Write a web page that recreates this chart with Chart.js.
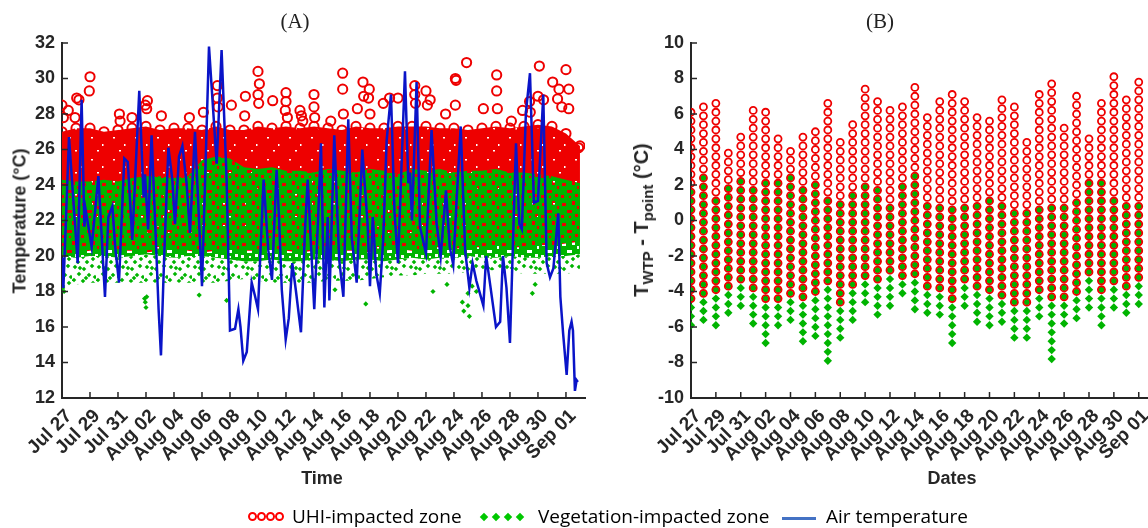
<!DOCTYPE html>
<html><head><meta charset="utf-8">
<script src="https://cdn.jsdelivr.net/npm/chart.js@4.4.1/dist/chart.umd.min.js"></script>
<style>
html,body{margin:0;padding:0;background:#fff;width:1148px;height:528px;overflow:hidden;position:relative;font-family:"Liberation Sans",Arial,sans-serif;}
canvas{position:absolute;top:0;}
#ca{left:0;}
#cb{left:620px;}
.t{position:absolute;white-space:nowrap;color:#262626;transform:translate(-50%,-50%);}
.ttl{font-family:"Liberation Serif","Times New Roman",serif;font-size:21px;color:#222;}
.ax{font-weight:bold;font-size:18px;}
.ax2{font-weight:bold;font-size:20px;}
.rot{transform:translate(-50%,-50%) rotate(-90deg);}
.sub{font-size:15px;vertical-align:-5px;}
.lg{position:absolute;white-space:nowrap;font-family:"Open Sans",sans-serif;font-size:19px;color:#000;top:503px;}
.ring{position:absolute;width:5px;height:5px;border:2px solid #f00;border-radius:50%;top:512px;}
.dia{position:absolute;width:6px;height:6px;background:#00c800;transform:rotate(45deg);top:514px;}
</style></head>
<body>
<canvas id="ca" width="600" height="470"></canvas>
<canvas id="cb" width="542" height="470"></canvas>
<div class="t ttl" style="left:295px;top:21px;">(A)</div>
<div class="t ttl" style="left:880px;top:21px;">(B)</div>
<div class="t ax rot" style="left:20px;top:221px;">Temperature (°C)</div>
<div class="t ax" style="left:322px;top:478px;">Time</div>
<div class="t ax" style="left:952px;top:478px;">Dates</div>
<div class="t ax2 rot" style="left:643px;top:220px;">T<span class="sub">WTP</span> - T<span class="sub">point</span> (°C)</div>
<div class="ring" style="left:248px"></div><div class="ring" style="left:257px"></div><div class="ring" style="left:266px"></div><div class="ring" style="left:275px"></div>
<div class="lg" style="left:292px">UHI-impacted zone</div>
<div class="dia" style="left:481px"></div><div class="dia" style="left:493px"></div><div class="dia" style="left:505px"></div><div class="dia" style="left:517px"></div>
<div class="lg" style="left:538px">Vegetation-impacted zone</div>
<div style="position:absolute;left:782px;top:517px;width:34px;height:3px;background:#4472c4"></div>
<div class="lg" style="left:826px">Air temperature</div>
<script>
// ---------- tick labels ----------
const xTickLabels = ['Jul 27','Jul 29','Jul 31','Aug 02','Aug 04','Aug 06','Aug 08','Aug 10','Aug 12','Aug 14','Aug 16','Aug 18','Aug 20','Aug 22','Aug 24','Aug 26','Aug 28','Aug 30','Sep 01'];

// ---------- Panel A: air temperature (days since Jul 27) ----------
const airDays = [0,0.1,0.5,0.93,1.12,1.4,1.6,1.69,1.88,2.12,2.6,3.07,3.31,3.6,3.8,4.07,4.45,4.7,5.02,5.52,5.83,5.93,6.15,6.4,6.75,6.9,7.07,7.3,7.6,7.88,8.07,8.36,8.6,8.9,9.14,9.5,10.0,10.5,11.05,11.4,11.76,12.0,12.36,12.6,12.75,12.95,13.2,13.55,13.8,14.0,14.4,14.74,15.0,15.33,15.5,15.7,15.98,16.2,16.45,16.7,17.07,17.36,17.55,18.02,18.3,18.5,18.74,18.98,19.1,19.45,19.8,20.1,20.45,20.7,21.05,21.45,21.83,22.0,22.2,22.45,22.7,22.95,23.19,23.5,23.75,24.0,24.5,24.74,24.86,25.0,25.33,25.57,26.0,26.4,26.76,27.05,27.43,27.7,27.95,28.2,28.48,28.8,29.1,29.33,29.6,30.1,30.3,30.6,31.0,31.3,31.5,31.75,32.0,32.43,32.67,32.85,33.14,33.43,33.71,34.0,34.38,34.62,34.86,35.1,35.45,35.6,35.8,36.05,36.24,36.4,36.5,36.64,36.76,36.85];
const airTemp = [19.9,18.2,26.7,21.8,19.6,28.8,21.65,22.6,21.7,20.5,24.5,17.7,22.2,22.8,20.5,18.5,25.5,25.3,20.9,29.3,23.3,24.6,21.5,26.8,20.0,17.0,14.4,20.0,26.1,24.3,21.8,25.6,26.2,24.1,21.3,27.0,18.3,31.8,25.2,31.6,24.3,15.8,15.9,17.0,16.0,14.1,14.6,18.5,17.7,17.0,24.3,20.3,18.65,24.85,22.2,18.1,15.3,16.5,19.6,18.1,15.7,21.5,24.3,17.0,22.2,26.35,17.1,22.2,17.5,26.8,19.8,17.7,27.7,21.0,18.5,26.0,21.8,18.3,22.2,19.0,17.9,21.0,26.5,29.1,22.5,19.6,30.4,24.1,24.7,22.0,29.8,21.65,20.15,27.1,21.84,19.96,23.7,20.5,19.5,23.3,27.3,20.3,18.2,19.6,18.6,17.2,20.0,18.3,16.0,16.3,20.0,18.2,15.1,26.35,21.8,21.5,28.1,30.3,23.0,23.1,29.1,19.6,18.8,19.3,22.4,17.7,15.6,13.3,15.8,16.3,15.8,12.4,13.0,12.9];

// ---------- Panel A: daily extent of the dense point clouds ----------
const bandDays = [0,1,2,3,4,5,6,7,8,9,10,11,12,13,14,15,16,17,18,19,20,21,22,23,24,25,26,27,28,29,30,31,32,33,34,35,36,37];
const uhiBandTop = [27.0,27.2,27.2,27.0,27.1,27.2,27.3,27.1,27.2,27.2,27.1,27.3,27.1,27.1,27.3,27.2,27.3,27.2,27.3,27.2,27.1,27.3,27.2,27.2,27.3,27.3,27.3,27.2,27.2,27.1,27.2,27.3,27.2,27.3,27.4,27.3,26.9,26.2];
const uhiBandBottom = [20.0,20.2,20.3,20.4,20.3,20.3,20.2,20.3,20.4,20.3,20.2,20.3,20.4,20.3,20.3,20.4,20.3,20.2,20.3,20.4,20.3,20.3,20.2,20.3,20.4,20.3,20.5,20.5,20.4,20.5,20.5,20.6,20.5,20.5,20.6,20.6,20.7,20.8];
const vegBandTop = [24.3,24.2,24.2,24.3,24.2,24.4,24.5,24.5,24.4,24.5,25.4,25.6,25.5,25.0,24.9,25.0,24.8,24.8,24.7,24.9,24.8,24.7,24.9,24.8,24.6,24.9,24.8,24.9,24.7,24.8,24.8,24.9,24.7,24.7,24.6,24.5,24.3,24.1];
const vegBandBottom = [20.0,19.9,20.0,20.0,19.9,20.0,20.1,20.0,19.9,20.0,20.0,19.9,19.8,19.7,19.7,19.8,19.7,19.7,19.8,19.8,19.7,19.8,19.8,19.7,19.8,19.9,19.8,19.9,19.9,20.0,19.9,19.9,20.0,19.9,19.9,20.0,20.0,20.1];
const vegSparseBottom = [18.1,18.4,18.5,18.5,18.5,18.5,18.5,18.5,18.5,18.5,18.5,18.5,18.6,18.7,18.6,18.5,18.5,18.5,18.5,18.6,18.6,18.6,18.7,18.8,18.9,18.9,19.0,19.0,19.0,19.1,19.2,19.2,19.1,19.0,19.0,19.0,19.0,19.1];

// ---------- Panel A: isolated points outside the clouds ----------
const uhiOutDays = [0.0,0.1,0.45,1.05,1.21,0.93,2.0,1.95,4.1,4.15,5.0,6.1,6.05,5.95,7.1,9.1,10.1,11.1,11.1,11.15,12.1,13.1,13.05,14.0,14.1,14.0,14.05,15.05,16.0,16.0,15.95,16.1,17.0,17.1,17.2,18.0,18.0,18.05,19.2,20.05,20.05,20.1,21.1,21.5,21.55,21.95,21.9,22.0,22.95,23.4,24.0,25.2,25.2,25.25,26.0,26.1,26.3,27.4,28.1,28.15,28.1,28.9,30.1,31.05,31.05,31.1,32.1,32.9,33.4,33.45,34.1,34.0,34.4,35.05,35.5,35.4,36.2,36.0,35.7,36.2,36.9];
const uhiOutTemp = [28.5,27.8,28.2,28.9,28.8,27.8,30.1,29.3,28.0,27.6,27.8,28.75,28.3,28.5,27.9,27.8,28.1,29.6,28.9,28.4,28.5,29.0,27.9,30.4,29.7,29.1,28.6,28.75,29.2,28.7,28.2,27.8,28.2,27.9,27.6,29.1,28.4,27.8,27.6,30.3,29.4,28.0,28.3,29.8,29.0,29.4,28.9,28.0,28.6,28.9,28.9,29.6,29.1,28.6,29.3,28.5,28.8,28.0,30.0,29.9,28.5,30.9,28.3,30.2,29.3,28.3,27.6,28.2,28.7,28.1,30.7,29.0,28.8,29.8,29.4,28.85,29.4,30.5,28.4,28.3,26.1];
const vegOutDays = [0.05,0.15,5.9,6.0,6.05,5.95,9.8,11.76,19.5,21.7,26.5,27.5,28.6,29.0,28.7,29.1,29.0,29.3,29.6,33.6,33.8];
const vegOutTemp = [18.2,18.0,17.6,17.1,17.7,17.4,17.8,17.5,18.1,17.3,18.0,18.4,17.4,17.2,16.9,16.6,17.9,18.3,18.0,17.9,18.4];

// ---------- Panel B: daily column extents of T_WTP - T_point (Jul 27 .. Sep 01) ----------
const uhiDiffTop = [6.1,6.4,6.6,3.8,4.7,6.2,6.1,4.6,3.9,4.7,5.0,6.6,4.4,5.4,7.4,6.7,6.2,6.4,7.5,5.8,6.7,7.1,6.7,5.8,5.6,6.8,6.4,4.4,7.1,7.7,5.2,7.0,4.6,6.6,8.1,6.8,7.8];
const uhiDiffBottom = [-4.5,-4.2,-4.0,-3.8,-3.3,-3.9,-4.5,-4.5,-4.1,-4.4,-4.0,-3.5,-4.6,-3.7,-3.3,-3.4,-3.0,-3.1,-3.1,-3.5,-3.8,-4.5,-3.5,-3.5,-4.0,-4.0,-4.7,-4.6,-4.0,-4.4,-4.5,-4.0,-3.0,-4.0,-3.5,-3.8,-3.4];
const vegDiffTop = [1.6,2.4,1.1,1.8,2.2,1.6,2.1,2.0,2.4,1.6,2.0,1.0,0.9,1.3,1.9,1.6,0.7,1.7,2.5,0.8,0.7,0.6,0.6,0.8,1.1,0.8,0.6,0.4,0.6,0.7,0.6,1.1,2.1,2.1,1.1,0.7,0.8];
const vegDiffBottom = [-6.0,-5.7,-6.0,-5.3,-4.8,-5.9,-7.0,-6.0,-5.7,-7.0,-6.5,-8.0,-6.7,-5.7,-4.7,-5.4,-5.0,-4.1,-5.0,-5.3,-5.3,-7.0,-5.0,-5.7,-6.0,-5.8,-6.7,-6.7,-5.5,-7.9,-5.9,-5.6,-5.0,-6.0,-5.0,-5.3,-4.8];
const diffStep = 0.5;

// ---------- styling ----------
const RED = '#ee0000', GREEN = '#00b400', BLUE = '#0a14c8', AXIS = '#262626';
Chart.defaults.font.family = '"Liberation Sans", Arial, sans-serif';
Chart.defaults.color = AXIS;

function pattern(ctx, size, draw) {
  const c = document.createElement('canvas'); c.width = c.height = size;
  const g = c.getContext('2d'); draw(g); return ctx.createPattern(c, 'repeat');
}
function diamond(g, x, y, r, col) {
  g.fillStyle = col; g.beginPath(); g.moveTo(x, y - r); g.lineTo(x + r, y); g.lineTo(x, y + r); g.lineTo(x - r, y); g.closePath(); g.fill();
}

const insideTicks = {
  id: 'insideTicks',
  afterDraw(chart) {
    const { ctx, chartArea: a, scales: { x, y } } = chart;
    ctx.save(); ctx.strokeStyle = AXIS; ctx.lineWidth = 1.5; ctx.beginPath();
    x.ticks.forEach(t => { const p = x.getPixelForValue(t.value); ctx.moveTo(p, a.bottom); ctx.lineTo(p, a.bottom - 6); });
    y.ticks.forEach(t => { const p = y.getPixelForValue(t.value); ctx.moveTo(a.left, p); ctx.lineTo(a.left + 6, p); });
    ctx.stroke(); ctx.restore();
  }
};

function axes(xmax, ymin, ymax, yWidth) {
  return {
    x: {
      type: 'linear', min: 0, max: xmax,
      afterBuildTicks: s => { s.ticks = s.ticks.filter(t => Number.isInteger(t.value) && t.value % 2 === 0 && t.value / 2 < xTickLabels.length); },
      afterFit: s => { s.height = 72; },
      ticks: { stepSize: 2, includeBounds: false, minRotation: 45, maxRotation: 45, padding: 7, labelOffset: 7, autoSkip: false,
        font: { size: 19, weight: 'bold' }, color: AXIS, callback: v => xTickLabels[v / 2] },
      grid: { drawOnChartArea: false, drawTicks: false },
      border: { display: true, color: AXIS, width: 2 }
    },
    y: {
      min: ymin, max: ymax,
      afterFit: s => { s.width = yWidth; },
      ticks: { stepSize: 2, padding: 7, font: { size: 18, weight: 'bold' }, color: AXIS },
      grid: { drawOnChartArea: false, drawTicks: false },
      border: { display: true, color: AXIS, width: 2 }
    }
  };
}

const zip = (xs, ys) => xs.map((x, i) => ({ x, y: ys[i] }));

// ---------- Chart A ----------
const ctxA = document.getElementById('ca').getContext('2d');
const redPat = pattern(ctxA, 22, g => {
  g.fillStyle = RED; g.fillRect(0, 0, 22, 22);
  g.fillStyle = '#fff'; g.fillRect(3, 5, 2, 1.5); g.fillRect(14, 12, 1.5, 2); g.fillRect(9, 18, 2, 1.5);
});
const greenDense = pattern(ctxA, 20, g => {
  g.fillStyle = GREEN; g.fillRect(0, 0, 20, 20);
  [[2,3,4,3],[12,1,3,4],[7,10,5,3],[15,14,3,3],[1,15,3,3],[17,6,2,3],[9,16,2,2]].forEach(r => g.clearRect(...r));
});
const greenSparse = pattern(ctxA, 24, g => {
  [[3,3],[12,5],[20,2],[7,10],[17,11],[2,16],[11,17],[21,19],[6,22],[15,22],[8,4],[23,13],[14,14]].forEach(p => diamond(g, p[0], p[1], 2.3, GREEN));
});

const hidden = { borderColor: 'rgba(0,0,0,0)', pointRadius: 0, tension: 0 };
new Chart(ctxA, {
  type: 'line',
  data: { datasets: [
    { data: zip(airDays, airTemp), borderColor: BLUE, borderWidth: 2.5, pointRadius: 0, tension: 0, fill: false, order: 0 },
    { data: zip(vegOutDays, vegOutTemp), showLine: false, pointStyle: 'rectRot', pointRadius: 2.6, pointBackgroundColor: GREEN, pointBorderWidth: 0, order: 1 },
    { data: zip(uhiOutDays, uhiOutTemp), showLine: false, pointStyle: 'circle', pointRadius: 4.6, pointBackgroundColor: 'rgba(0,0,0,0)', pointBorderColor: RED, pointBorderWidth: 2, order: 2 },
    { data: zip(bandDays, vegBandTop), ...hidden, fill: 4, backgroundColor: greenDense, order: 3 },
    { data: zip(bandDays, vegBandBottom), ...hidden, fill: 5, backgroundColor: greenSparse, order: 4 },
    { data: zip(bandDays, vegSparseBottom), ...hidden, fill: false, order: 5 },
    { data: zip(bandDays, uhiBandTop), borderColor: 'rgba(0,0,0,0)', tension: 0, fill: 7, backgroundColor: redPat,
      pointRadius: 4.6, pointBorderColor: RED, pointBorderWidth: 2, pointBackgroundColor: 'rgba(0,0,0,0)', order: 6 },
    { data: zip(bandDays, uhiBandBottom), ...hidden, fill: false, order: 7 }
  ]},
  options: {
    responsive: false, animation: false, events: [],
    layout: { padding: { top: 43, right: 15, left: 0, bottom: 0 } },
    plugins: { legend: { display: false }, tooltip: { enabled: false } },
    scales: axes(37.36, 12, 32, 62)
  },
  plugins: [insideTicks]
});

// ---------- Chart B ----------
const redPts = [], greenPts = [];
uhiDiffTop.forEach((top, d) => {
  for (let v = top; v >= Math.min(uhiDiffBottom[d], vegDiffBottom[d]) - 0.25; v -= diffStep) {
    const y = Math.round(v * 100) / 100;
    if (y >= uhiDiffBottom[d] - 0.25) redPts.push({ x: d, y });
    if (y <= vegDiffTop[d] + 0.25 && y >= vegDiffBottom[d] - 0.25) greenPts.push({ x: d, y });
  }
});
new Chart(document.getElementById('cb').getContext('2d'), {
  type: 'line',
  data: { datasets: [
    { data: redPts, showLine: false, pointStyle: 'circle', pointRadius: 3.5, pointBorderWidth: 1.8, pointBorderColor: RED, pointBackgroundColor: 'rgba(0,0,0,0)', order: 0 },
    { data: greenPts, showLine: false, pointStyle: 'rectRot', pointRadius: 4.2, pointBorderWidth: 0, pointBackgroundColor: GREEN, order: 1 }
  ]},
  options: {
    responsive: false, animation: false, events: [],
    layout: { padding: { top: 43, right: 0, left: 0, bottom: 0 } },
    plugins: { legend: { display: false }, tooltip: { enabled: false } },
    scales: axes(36.85, -10, 10, 71)
  },
  plugins: [insideTicks]
});
</script>
</body></html>
